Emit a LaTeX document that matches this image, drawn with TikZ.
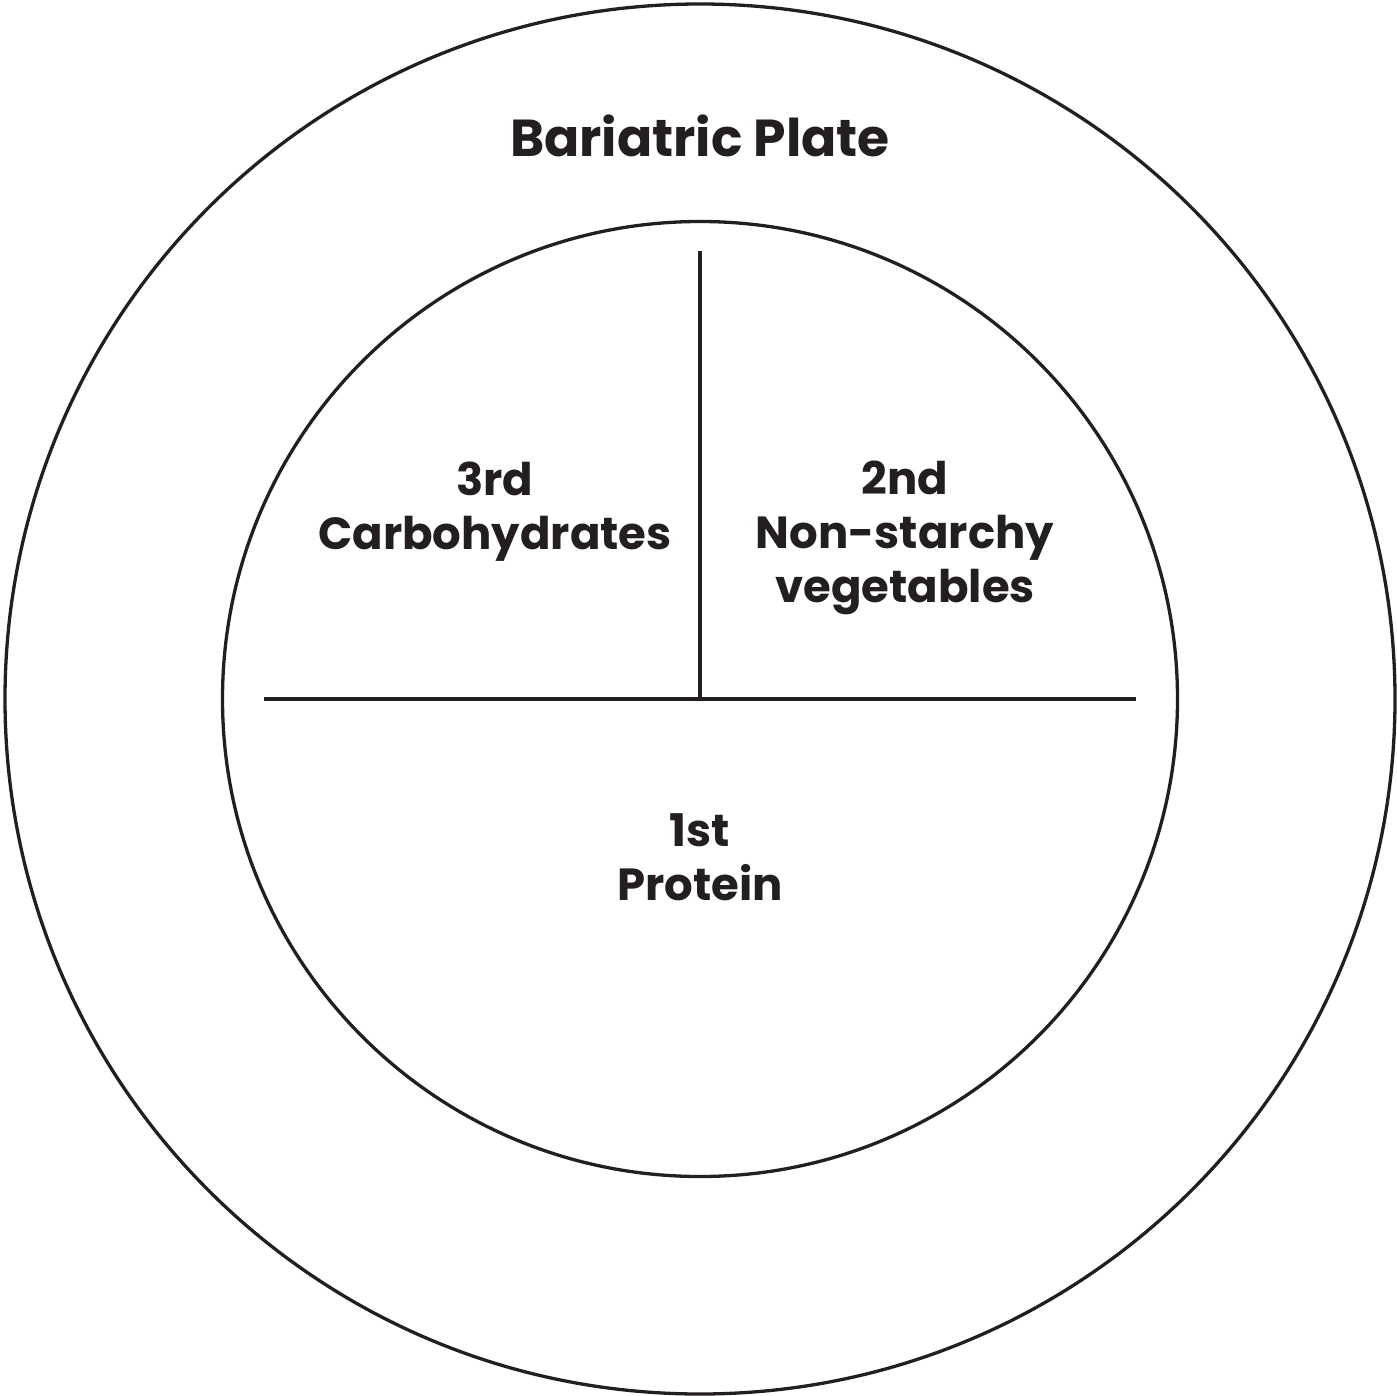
\documentclass[tikz,border=0pt]{standalone}
\usepackage{fontspec}
\setmainfont{Poppins}
\usepackage{xcolor}
\usetikzlibrary{positioning}
\definecolor{ink}{HTML}{231F20}
\tikzset{
  plate/.style={draw=ink,circle,line width=3.3pt,inner sep=0pt,minimum size=#1},
  divider/.style={draw=ink,line width=3.3pt},
  label/.style={align=center,font=\fontsize{45}{54}\selectfont\bfseries,text=ink,inner sep=0pt}
}

\begin{document}
\begin{tikzpicture}[x=1pt,y=-1pt]
    \useasboundingbox (0,0) rectangle (1397,1395);
    \node[plate=1390pt] (outer) at (700,699) {};
    \node[plate=955pt] (inner) at (700,699) {};
    \node[label,font=\fontsize{52}{60}\selectfont\bfseries] (title) at (700,136) {Bariatric Plate};
    % dividers
    \coordinate (top) at (700,251);
    \coordinate (mid) at (700,699);
    \coordinate (left) at (264,699);
    \coordinate (right) at (1136,699);
    \draw[divider] (top) -- (mid);
    \draw[divider] (left) -- (right);
    % sections
    \node[label] (carbs) at (495,512) {3rd\\Carbohydrates};
    \node[label] (veg) at (905,538) {2nd\\Non-starchy\\vegetables};
    \node[label] (protein) at (700,857) {1st\\Protein};
  \end{tikzpicture}
\end{document}
